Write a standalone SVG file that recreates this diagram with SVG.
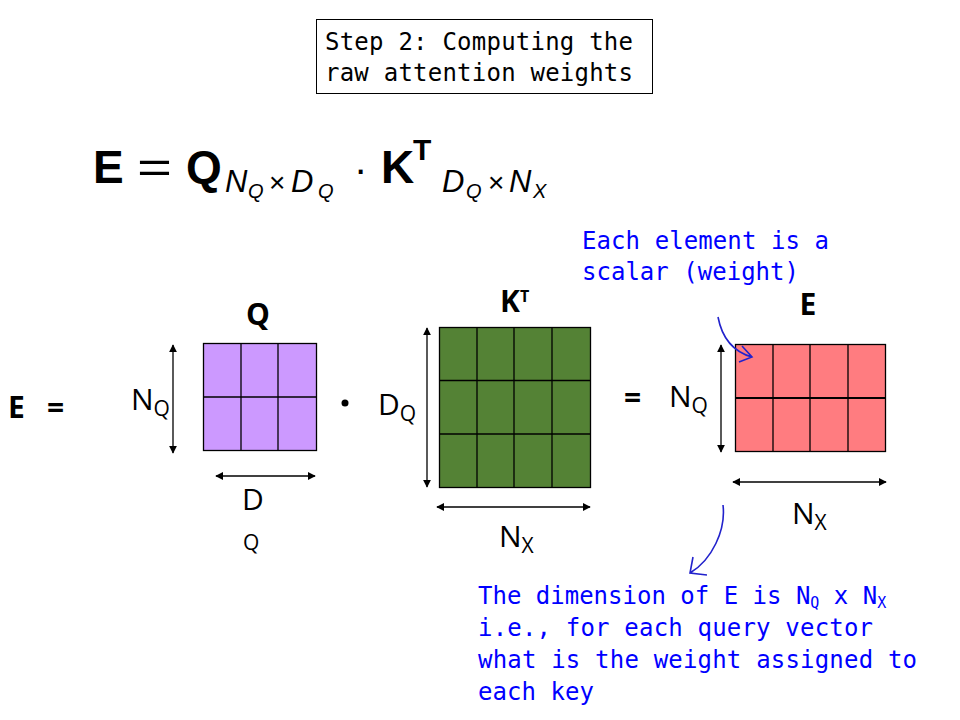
<svg xmlns="http://www.w3.org/2000/svg" width="960" height="720" viewBox="0 0 960 720">
<defs>
<style>
.mono{font-family:"DejaVu Sans Mono","Liberation Mono",monospace;font-size:24px;}
.blue{fill:#0000FF;}
.sans{font-family:"Liberation Sans","Open Sans",Arial,sans-serif;}
.lbl{font-family:"Open Sans","Liberation Sans",sans-serif;font-size:30px;fill:#000;}
.sub{font-size:21px;}
.bold{font-weight:bold;}
.grid{stroke:#000;stroke-width:1.3;}
.dim{stroke:#000;stroke-width:1.3;fill:none;marker-start:url(#ah);marker-end:url(#ah);}
.barrow{stroke:#2222CC;stroke-width:1.6;fill:none;}
</style>
<marker id="ah" viewBox="0 0 10 10" refX="9" refY="5" markerWidth="8" markerHeight="8" markerUnits="userSpaceOnUse" orient="auto-start-reverse">
<path d="M0,0 L10,5 L0,10 z" fill="#000"/>
</marker>
</defs>
<rect width="960" height="720" fill="#fff"/>

<g id="title">
<rect x="316.5" y="19.5" width="336" height="74" fill="#fff" stroke="#000" stroke-width="1"/>
<text class="mono" x="325" y="50" fill="#000" textLength="308">Step 2: Computing the</text>
<text class="mono" x="325" y="81" fill="#000" textLength="308">raw attention weights</text>
</g>

<g id="formula" class="sans" fill="#000">
<text x="93" y="183" font-size="46" font-weight="bold">E</text>
<text x="137" y="183" font-size="44" textLength="35" lengthAdjust="spacingAndGlyphs">=</text>
<text x="186" y="183" font-size="46" font-weight="bold">Q</text>
<text x="225" y="192" font-size="31" font-style="italic">N</text>
<text x="248" y="198" font-size="20" font-style="italic">Q</text>
<text x="269" y="192" font-size="28">×</text>
<text x="291" y="192" font-size="31" font-style="italic">D</text>
<text x="318" y="198" font-size="20" font-style="italic">Q</text>
<text x="354" y="183" font-size="40">·</text>
<text x="381" y="183" font-size="46" font-weight="bold">K</text>
<text x="413" y="160" font-size="30" font-weight="bold">T</text>
<text x="442" y="192" font-size="31" font-style="italic">D</text>
<text x="466" y="198" font-size="20" font-style="italic">Q</text>
<text x="488" y="192" font-size="28">×</text>
<text x="509" y="192" font-size="31" font-style="italic">N</text>
<text x="533" y="198" font-size="20" font-style="italic">X</text>
</g>

<g id="e-eq">
<text class="lbl bold" x="8" y="418" font-size="28">E</text>
<text class="lbl bold" x="47" y="418" font-size="28">=</text>
</g>

<g id="matQ">
<text class="lbl bold" x="258" y="325" font-size="26" text-anchor="middle">Q</text>
<rect x="203.5" y="343.5" width="113" height="107" fill="#CC99FF" stroke="#000" stroke-width="1.3"/>
<line class="grid" x1="241" y1="343.5" x2="241" y2="450.5"/>
<line class="grid" x1="278" y1="343.5" x2="278" y2="450.5"/>
<line class="grid" x1="203.5" y1="397" x2="316.5" y2="397"/>
<text class="lbl" x="131" y="410">N<tspan class="sub" dy="6">Q</tspan></text>
<text class="lbl" x="242" y="510">D</text>
<text class="lbl sub" x="243" y="550">Q</text>
</g>

<g id="dot">
<circle cx="345" cy="403" r="3.5" fill="#000"/>
</g>

<g id="matK">
<text class="lbl bold" x="500" y="312" font-size="26">K<tspan font-size="16" dy="-10">T</tspan></text>
<rect x="439.5" y="327.5" width="151" height="160" fill="#548235" stroke="#000" stroke-width="1.3"/>
<line class="grid" x1="477" y1="327.5" x2="477" y2="487.5"/>
<line class="grid" x1="514" y1="327.5" x2="514" y2="487.5"/>
<line class="grid" x1="552" y1="327.5" x2="552" y2="487.5"/>
<line class="grid" x1="439.5" y1="380.5" x2="590.5" y2="380.5"/>
<line class="grid" x1="439.5" y1="434" x2="590.5" y2="434"/>
<text class="lbl" x="378" y="415">D<tspan class="sub" dy="6">Q</tspan></text>
<text class="lbl" x="499" y="547">N<tspan class="sub" dy="6">X</tspan></text>
</g>

<g id="eq2">
<text class="lbl bold" x="624" y="408" font-size="26">=</text>
</g>

<g id="matE">
<text class="lbl bold" x="808" y="315" font-size="26" text-anchor="middle">E</text>
<rect x="735.5" y="344.5" width="150" height="107" fill="#FF7C80" stroke="#000" stroke-width="1.3"/>
<line class="grid" x1="773" y1="344.5" x2="773" y2="451.5"/>
<line class="grid" x1="810" y1="344.5" x2="810" y2="451.5"/>
<line class="grid" x1="848" y1="344.5" x2="848" y2="451.5"/>
<line x1="735.5" y1="398" x2="885.5" y2="398" stroke="#000" stroke-width="2"/>
<text class="lbl" x="669" y="407">N<tspan class="sub" dy="6">Q</tspan></text>
<text class="lbl" x="792" y="524">N<tspan class="sub" dy="6">X</tspan></text>
</g>

<g id="note-top">
<text class="mono blue" x="582" y="249" textLength="247">Each element is a</text>
<text class="mono blue" x="582" y="280" textLength="217">scalar (weight)</text>
</g>

<g id="note-bottom" class="mono blue">
<text x="478" y="604">The dimension of E is N<tspan font-size="15" dy="4">Q</tspan><tspan dy="-4"> x N</tspan><tspan font-size="15" dy="4">X</tspan></text>
<text x="478" y="636" textLength="395">i.e., for each query vector</text>
<text x="478" y="668" textLength="439">what is the weight assigned to</text>
<text x="478" y="700" textLength="116">each key</text>
</g>

<g id="connectors">
<line class="dim" x1="173" y1="345" x2="173" y2="453"/>
<line class="dim" x1="216" y1="476" x2="315" y2="476"/>
<line class="dim" x1="427" y1="328" x2="427" y2="487"/>
<line class="dim" x1="437" y1="507" x2="590" y2="507"/>
<line class="dim" x1="721" y1="345" x2="721" y2="452"/>
<line class="dim" x1="733" y1="482" x2="886" y2="482"/>
<path class="barrow" d="M718,317 C722,338 734,352 752,357 M742,346 L752,357 L739,362"/>
<path class="barrow" d="M723,505 C726,530 712,560 690,573 M693,557 L690,573 L707,575"/>
</g>
</svg>
